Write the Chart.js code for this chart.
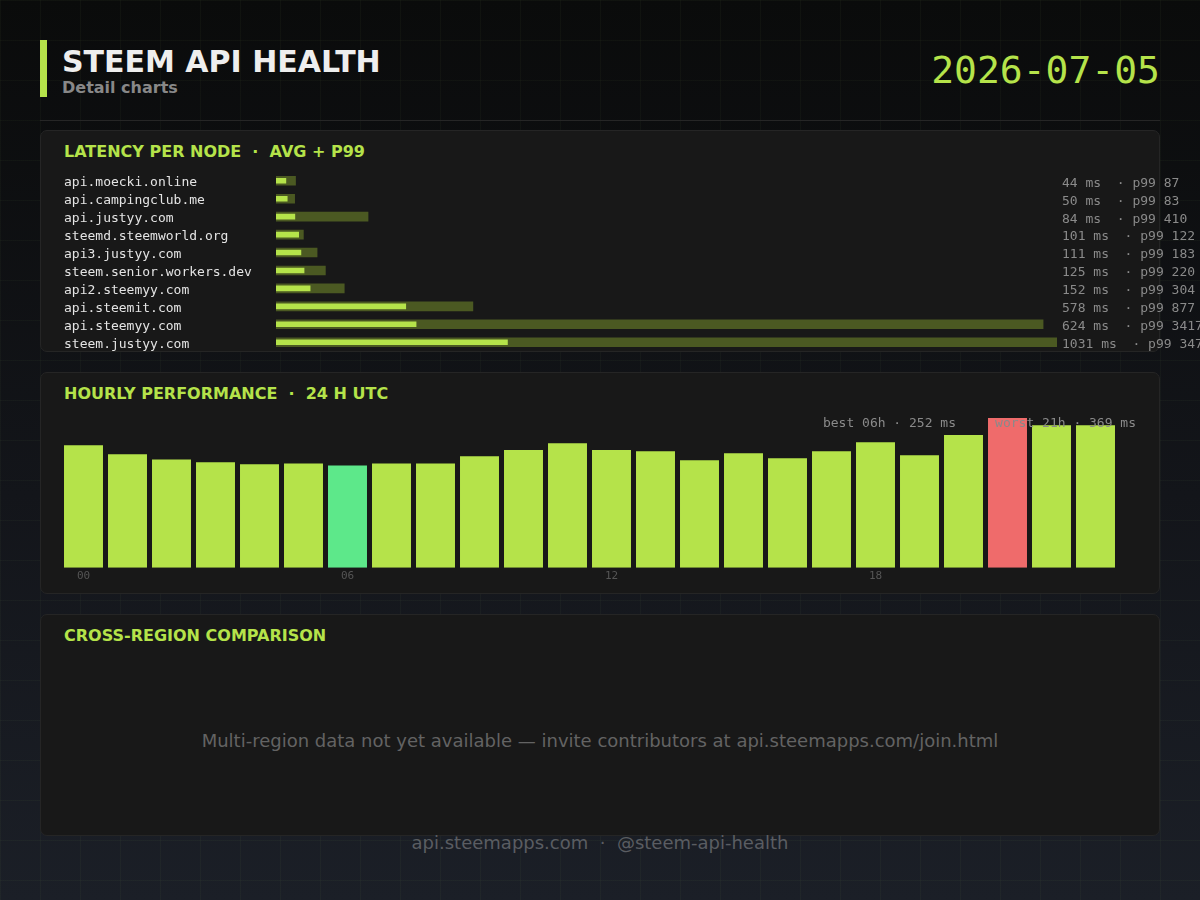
<!DOCTYPE html>
<html>
<head>
<meta charset="utf-8">
<script src="https://cdn.jsdelivr.net/npm/chart.js@4/dist/chart.umd.min.js"></script>
<style>
  html, body { margin: 0; padding: 0; }
  body {
    width: 1200px; height: 900px; position: relative; overflow: hidden;
    background:
      linear-gradient(rgba(150,190,110,0.045) 1px, transparent 1px) 0 0 / 40px 40px,
      linear-gradient(90deg, rgba(150,190,110,0.045) 1px, transparent 1px) 0 0 / 40px 40px,
      linear-gradient(180deg, #0a0b0b 0%, #13151a 55%, #1b1f27 100%);
    font-family: "DejaVu Sans", sans-serif;
  }
  .accent { position: absolute; left: 40px; top: 40px; width: 7px; height: 57px; background: #b5e34a; }
  #title { position: absolute; left: 62px; top: 44px; font-size: 30px; font-weight: bold; color: #eeeeee; }
  #subtitle { position: absolute; left: 62px; top: 78px; font-size: 16px; font-weight: bold; color: #888888; }
  #date { position: absolute; right: 40px; top: 48px; font-family: "DejaVu Sans Mono", monospace; font-size: 38px; color: #b5e34a; }
  .sep { position: absolute; left: 40px; top: 120px; width: 1120px; height: 1px; background: #262626; }
  .panel { position: absolute; left: 40px; width: 1118px; background: #181818; border: 1px solid #252525; border-radius: 7px; }
  .ptitle { position: absolute; left: 23px; top: 11px; font-size: 16px; font-weight: bold; color: #b5e34a; white-space: pre; }
  canvas { position: absolute; }
  #empty { position: absolute; left: 0; width: 1200px; top: 730px; text-align: center; font-size: 18px; color: #636363; }
  #footer { position: absolute; left: 0; width: 1200px; top: 832px; text-align: center; font-size: 18px; color: #5a5d62; white-space: pre; }
</style>
</head>
<body>
<div class="accent"></div>
<div id="title">STEEM API HEALTH</div>
<div id="subtitle">Detail charts</div>
<div id="date">2026-07-05</div>
<div class="sep"></div>

<div class="panel" style="top:130px;height:220px;"><div class="ptitle">LATENCY PER NODE  ·  AVG + P99</div></div>
<div class="panel" style="top:372px;height:220px;"><div class="ptitle">HOURLY PERFORMANCE  ·  24 H UTC</div></div>
<div class="panel" style="top:614px;height:220px;"><div class="ptitle">CROSS-REGION COMPARISON</div></div>

<canvas id="latencyChart" style="left:40px;top:164px;width:1160px;height:195px;"></canvas>
<canvas id="hourlyChart" style="left:40px;top:400px;width:1120px;height:197px;"></canvas>

<div id="empty">Multi-region data not yet available — invite contributors at api.steemapps.com/join.html</div>
<div id="footer">api.steemapps.com  ·  @steem-api-health</div>

<script>
// latency per node (ms)
const nodes = ["api.moecki.online", "api.campingclub.me", "api.justyy.com", "steemd.steemworld.org",
  "api3.justyy.com", "steem.senior.workers.dev", "api2.steemyy.com", "api.steemit.com",
  "api.steemyy.com", "steem.justyy.com"];
const avgMs = [44, 50, 84, 101, 111, 125, 152, 578, 624, 1031];
const p99Ms = [87, 83, 410, 122, 183, 220, 304, 877, 3417, 3479];

// hourly average latency (ms), 00..23 UTC
const hours = ["00", "01", "02", "03", "04", "05", "06", "07", "08", "09", "10", "11",
  "12", "13", "14", "15", "16", "17", "18", "19", "20", "21", "22", "23"];
const hourlyMs = [302, 280, 267, 260, 255, 257, 252, 257, 257, 275, 290, 307,
  290, 287, 265, 282, 270, 287, 309, 277, 327, 369, 351, 351];

const LIME = "#b5e34a";
const OLIVE = "#4b5922";
const BEST = "#5de88a";
const WORST = "#ef6b6b";
const MONO = "DejaVu Sans Mono";

let latency = {

  valueText: {
    id: "valueText",
    afterDatasetsDraw: function (chart) {
      const ctx = chart.ctx;
      const y = chart.scales.y;
      ctx.save();
      ctx.font = "13px " + MONO;
      ctx.fillStyle = "#8a8a8a";
      ctx.textAlign = "left";
      ctx.textBaseline = "middle";
      nodes.forEach((n, i) => {
        ctx.fillText(avgMs[i] + " ms  · p99 " + p99Ms[i], chart.chartArea.right + 5, y.getPixelForValue(i) + 2.5);
      });
      ctx.restore();
    }
  },

  draw: function () {
    let ctx = document.getElementById("latencyChart").getContext("2d");
    new Chart(ctx, {
      type: "bar",
      data: {
        labels: nodes,
        datasets: [
          { label: "avg", data: avgMs, backgroundColor: LIME, barThickness: 5, grouped: false, order: 0 },
          { label: "p99", data: p99Ms, backgroundColor: OLIVE, barThickness: 9, grouped: false, order: 1 }
        ]
      },
      options: {
        indexAxis: "y",
        responsive: false,
        animation: false,
        layout: { padding: { left: 24, right: 143, top: 0, bottom: 0 } },
        plugins: { legend: { display: false }, tooltip: { enabled: false } },
        scales: {
          x: { display: false, min: 0, max: Math.max(...p99Ms) },
          y: {
            grid: { display: false, drawTicks: false },
            border: { display: false },
            afterFit: (scale) => { scale.width = 212; },
            ticks: { autoSkip: false, crossAlign: "far", labelOffset: 2, color: "#e4e4e4", font: { family: MONO, size: 13 }, padding: 0 }
          }
        }
      },
      plugins: [latency.valueText]
    });
  }
}

let hourly = {

  bestWorst: {
    id: "bestWorst",
    afterDatasetsDraw: function (chart) {
      const ctx = chart.ctx;
      const lo = hourlyMs.indexOf(Math.min(...hourlyMs));
      const hi = hourlyMs.indexOf(Math.max(...hourlyMs));
      ctx.save();
      ctx.font = "13px " + MONO;
      ctx.fillStyle = "#8a8a8a";
      ctx.textAlign = "right";
      ctx.textBaseline = "middle";
      ctx.fillText("best " + hours[lo] + "h · " + hourlyMs[lo] + " ms     worst " + hours[hi] + "h · " + hourlyMs[hi] + " ms",
        1096, chart.chartArea.top + 6);
      ctx.restore();
    }
  },

  draw: function () {
    const lo = hourlyMs.indexOf(Math.min(...hourlyMs));
    const hi = hourlyMs.indexOf(Math.max(...hourlyMs));
    const colors = hourlyMs.map((v, i) => i === lo ? BEST : (i === hi ? WORST : LIME));
    let ctx = document.getElementById("hourlyChart").getContext("2d");
    new Chart(ctx, {
      type: "bar",
      data: {
        labels: hours,
        datasets: [{ data: hourlyMs, backgroundColor: colors, barPercentage: 0.886, categoryPercentage: 1 }]
      },
      options: {
        responsive: false,
        animation: false,
        layout: { padding: { left: 21.5, right: 42.5, top: 18, bottom: 12 } },
        plugins: { legend: { display: false }, tooltip: { enabled: false } },
        scales: {
          x: {
            grid: { display: false, drawTicks: false },
            border: { display: false },
            ticks: {
              autoSkip: false, maxRotation: 0, padding: 2,
              color: "#555555", font: { family: MONO, size: 11 },
              callback: function (v, i) { return i % 6 === 0 ? hours[i] : ""; }
            }
          },
          y: { display: false, min: 0, max: Math.max(...hourlyMs) }
        }
      },
      plugins: [hourly.bestWorst]
    });
  }
}

latency.draw();
hourly.draw();
</script>
</body>
</html>
